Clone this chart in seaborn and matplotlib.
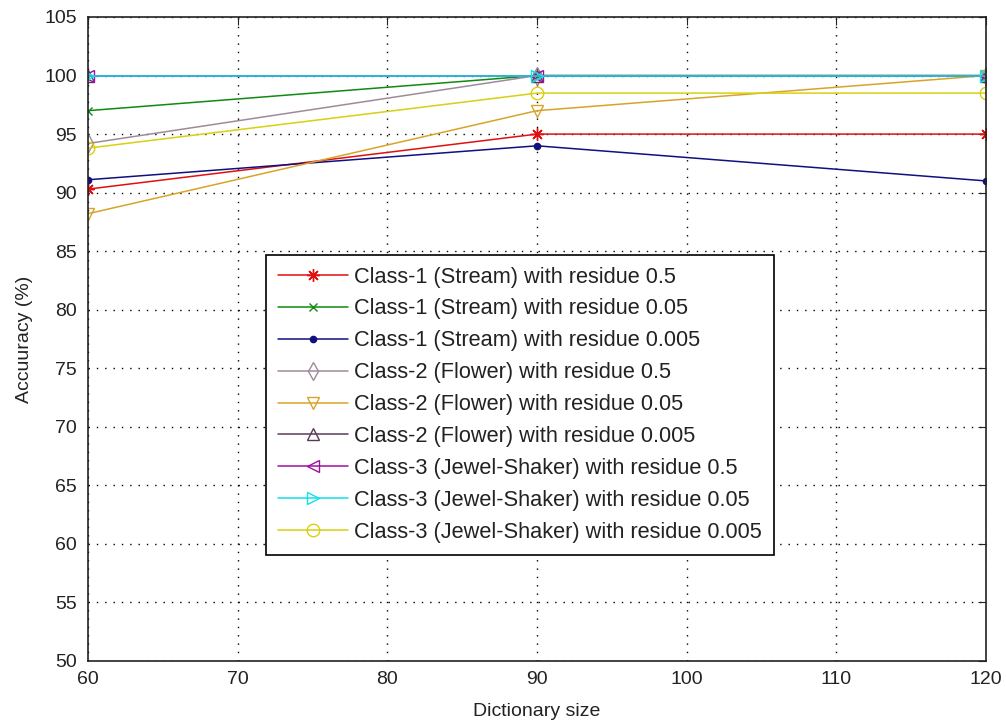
import pandas as pd
import matplotlib
matplotlib.use("Agg")
import matplotlib.pyplot as plt
import seaborn as sns

# dictionary sizes on the x axis
dict_size = [60, 90, 120]

# accuracy (%) for every class / residue combination
c1_r05 = [90.3, 95.0, 95.0]
c1_r005 = [97.0, 100.0, 100.0]
c1_r0005 = [91.1, 94.0, 91.0]
c2_r05 = [94.2, 100.0, 100.0]
c2_r005 = [88.2, 97.0, 100.0]
c2_r0005 = [100.0, 100.0, 100.0]
c3_r05 = [100.0, 100.0, 100.0]
c3_r005 = [100.0, 100.0, 100.0]
c3_r0005 = [93.8, 98.5, 98.5]

labels = [
    "Class-1 (Stream) with residue 0.5",
    "Class-1 (Stream) with residue 0.05",
    "Class-1 (Stream) with residue 0.005",
    "Class-2 (Flower) with residue 0.5",
    "Class-2 (Flower) with residue 0.05",
    "Class-2 (Flower) with residue 0.005",
    "Class-3 (Jewel-Shaker) with residue 0.5",
    "Class-3 (Jewel-Shaker) with residue 0.05",
    "Class-3 (Jewel-Shaker) with residue 0.005",
]
series = [c1_r05, c1_r005, c1_r0005, c2_r05, c2_r005, c2_r0005,
          c3_r05, c3_r005, c3_r0005]

colors = ["#e01010", "#108a10", "#101080", "#a08a98", "#d8a428",
          "#5a3a5a", "#a010a0", "#10e0e8", "#d8d010"]
markers = [(8, 2, 0), "x", ".", "d", "v", "^", "<", ">", "o"]
sizes = [9, 6, 9, 9, 9, 9, 9, 9, 9]
open_marker = [False, False, False, True, True, True, True, True, True]

sns.set_style("white")
plt.rcParams["font.family"] = ["Liberation Sans", "DejaVu Sans"]

fig = plt.figure(figsize=(10.06, 7.24), dpi=100)
ax = fig.add_axes([88 / 1006, 1 - 661 / 724, 898 / 1006, 644 / 724])

for lab, vals, col, mk, ms, op in zip(labels, series, colors, markers,
                                      sizes, open_marker):
    df = pd.DataFrame({"size": dict_size, "acc": vals})
    sns.lineplot(data=df, x="size", y="acc", ax=ax, color=col, label=lab,
                 marker=mk, markersize=ms,
                 markerfacecolor="none" if op else col,
                 markeredgecolor=col, markeredgewidth=1.0, linewidth=1.1)

ax.set_xlim(60, 120)
ax.set_ylim(50, 105)
ax.set_xticks(range(60, 121, 10))
ax.set_yticks(range(50, 106, 5))
ax.grid(True, color="black", linestyle=(0, (1, 5)), linewidth=1.0)
ax.tick_params(direction="in", length=6, labelsize=14, colors="#222222",
               top=True, right=True)
ax.tick_params(axis="y", pad=8)
ax.tick_params(axis="x", pad=7)
for sp in ax.spines.values():
    sp.set_color("#222222")
    sp.set_linewidth(1.2)

ax.set_xlabel("Dictionary size", fontsize=14, labelpad=11, color="#222222")
ax.set_ylabel("Accuuracy (%)", fontsize=14, labelpad=8, color="#222222")

leg = ax.legend(loc="lower left", bbox_to_anchor=(0.198, 0.165),
                fontsize=15.7, handlelength=3.2, frameon=True, fancybox=False,
                edgecolor="black", framealpha=1, borderpad=0.55,
                labelspacing=0.5, handletextpad=0.3, borderaxespad=0)
leg.get_frame().set_linewidth(1.2)
for t in leg.get_texts():
    t.set_color("#222222")

fig.savefig("out.png", dpi=100)
